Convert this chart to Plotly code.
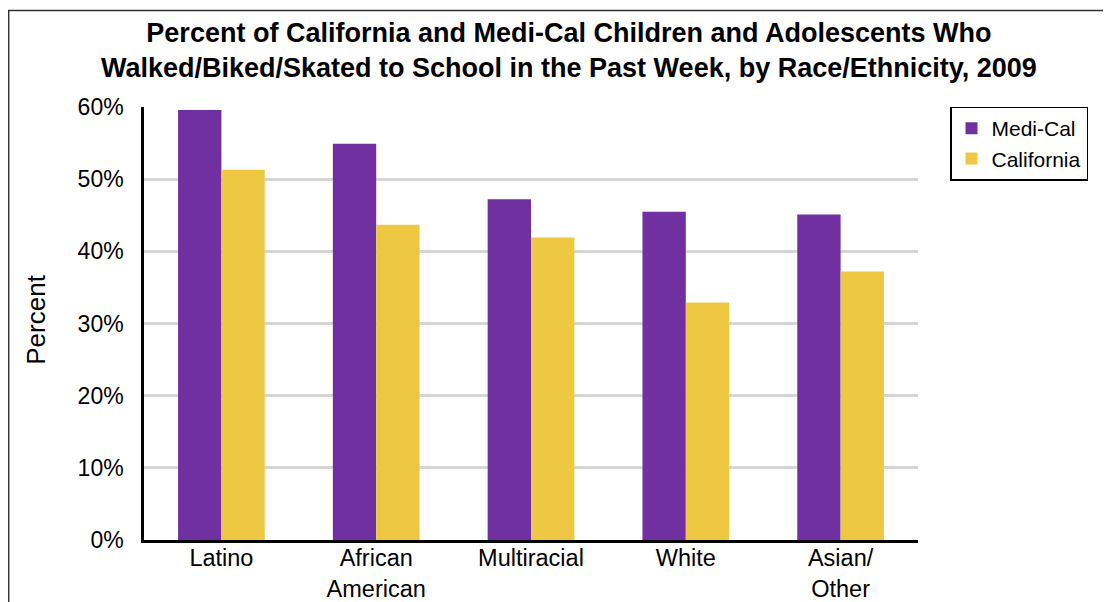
import plotly.graph_objects as go

categories = ["Latino", "African<br>American", "Multiracial", "White", "Asian/<br>Other"]
medi_cal = [59.6, 54.9, 47.2, 45.5, 45.1]
california = [51.3, 43.7, 41.9, 32.9, 37.2]
y_ticks = [0, 10, 20, 30, 40, 50, 60]
y_tick_labels = [f"{v}%" for v in y_ticks]

OFF = 8  # page body margin offset
W, H = 1111 - OFF, 602 - OFF
plot_left, plot_right, plot_top, plot_bottom = 144 - OFF, 918 - OFF, 106.5 - OFF, 540 - OFF
L, R, T, B = plot_left, W - plot_right, plot_top, H - plot_bottom
pw, ph = plot_right - plot_left, plot_bottom - plot_top

def px(x):  # screen x -> paper
    return (x - OFF - plot_left) / pw

def py(y):  # screen y -> paper
    return (plot_bottom - (y - OFF)) / ph

FONT = "Liberation Sans, Arial, sans-serif"

fig = go.Figure()
fig.add_trace(go.Bar(name="Medi-Cal", x=categories, y=medi_cal, marker_color="#7030A0", marker_line_width=0))
fig.add_trace(go.Bar(name="California", x=categories, y=california, marker_color="#EEC843", marker_line_width=0))

fig.update_layout(
    width=W, height=H,
    margin=dict(l=L, r=R, t=T, b=B, autoexpand=False),
    paper_bgcolor="white", plot_bgcolor="white",
    barmode="group", bargap=0.44, bargroupgap=0,
    font=dict(family=FONT, color="black", size=23),
    legend=dict(
        x=px(950), xanchor="left", y=py(106), yanchor="top",
        bordercolor="black", borderwidth=1.5,
        font=dict(size=21, family=FONT),
        traceorder="normal", itemwidth=30,
    ),
    showlegend=True,
)

fig.add_annotation(
    text="<b>Percent of California and Medi-Cal Children and Adolescents Who<br>Walked/Biked/Skated to School in the Past Week, by Race/Ethnicity, 2009</b>",
    xref="paper", yref="paper", x=px(569), y=py(50), xanchor="center", yanchor="middle",
    showarrow=False, font=dict(size=27, family=FONT, color="black"),
)
fig.add_annotation(
    text="Percent", textangle=-90,
    xref="paper", yref="paper", x=px(36.5), y=py(320), xanchor="center", yanchor="middle",
    showarrow=False, font=dict(size=26, family=FONT, color="black"),
)

fig.update_yaxes(
    range=[0, 60], tickvals=y_ticks, ticktext=y_tick_labels,
    showgrid=True, gridcolor="#D6D6D9", gridwidth=2.5,
    showline=True, linecolor="black", linewidth=2.5,
    zeroline=False, ticks="", ticklabelstandoff=13,
    tickfont=dict(size=23), automargin=False,
)
fig.update_xaxes(
    showline=True, linecolor="black", linewidth=3,
    ticks="", tickfont=dict(size=23.5), automargin=False,
    ticklabelstandoff=-5,
)

# outer frame (left and top edges visible in reference)
fig.add_shape(type="line", xref="paper", yref="paper",
              x0=px(8.7), x1=px(8.7), y0=py(700), y1=py(10),
              line=dict(color="#333333", width=1.5))
fig.add_shape(type="line", xref="paper", yref="paper",
              x0=px(8), x1=px(1200), y0=py(10), y1=py(10),
              line=dict(color="#333333", width=1.5))

fig.write_html("out.html")
